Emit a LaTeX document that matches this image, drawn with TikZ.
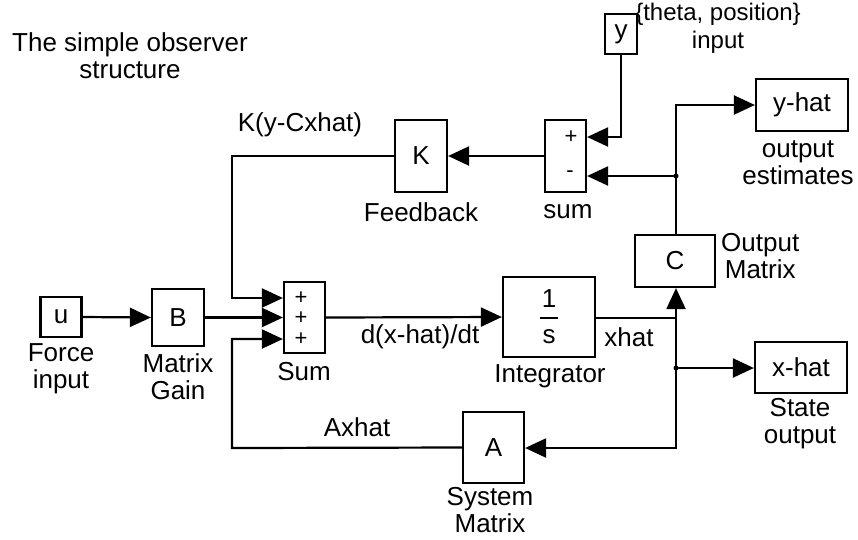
\documentclass[tikz,border=0pt]{standalone}
\usepackage{fontspec}
\setmainfont{Liberation Sans}
\usetikzlibrary{arrows.meta}
\begin{document}
\begin{tikzpicture}[x=1pt,y=-1pt,
  every node/.style={font=\fontsize{26}{27}\selectfont, inner sep=0pt, align=center},
  blk/.style={draw, line width=2.2pt, rectangle},
  wire/.style={line width=2.2pt},
  arr/.style={line width=2.2pt, -{Triangle[length=21pt,width=19pt]}},
  pm/.style={font=\fontsize{22}{22}\selectfont},
  dot/.style={circle, fill=black, minimum size=5pt, inner sep=0pt}]
\useasboundingbox (0,0) rectangle (858,539);
% blocks
\node[blk, minimum width=41pt, minimum height=40pt] (u) at (61,317) {u};
\node[blk, minimum width=52pt, minimum height=57pt] (B) at (178,317.5) {B};
\node[blk, minimum width=41pt, minimum height=71pt] (S) at (304.5,317.5) {};
\node[pm] (sp1) at (301,298) {+};
\node[pm] (sp2) at (301,318) {+};
\node[pm] (sp3) at (301,339) {+};
\node[blk, minimum width=52pt, minimum height=72pt] (K) at (421,156) {K};
\node[blk, minimum width=41pt, minimum height=72pt] (s2) at (565.5,156) {};
\node[pm] (s2p) at (571,137) {+};
\node[pm] (s2m) at (570,174) {-};
\node[blk, minimum width=32pt, minimum height=40pt] (y) at (621,34) {y};
\node[blk, minimum width=92pt, minimum height=52pt] (yh) at (802,105) {y-hat};
\node[blk, minimum width=80pt, minimum height=52pt] (C) at (675,261) {C};
\node[blk, minimum width=92pt, minimum height=80pt] (I) at (549,317) {};
\node (one) at (549,299) {1};
\node (ess) at (549,337) {s};
\coordinate (barl) at (540,318);
\coordinate (barr) at (558,318);
\draw[line width=2.2pt] (barl) -- (barr);
\node[blk, minimum width=92pt, minimum height=51pt] (xh) at (801,367.5) {x-hat};
\node[blk, minimum width=61pt, minimum height=71pt] (A) at (493.5,447.5) {A};
% junctions
\node[dot] (j1) at (676,176) {};
\node[dot] (j2) at (676,368) {};
\coordinate (cx) at (676,318);
\coordinate (cb) at (676,448);
\coordinate (kl) at (232,156);
\coordinate (al) at (232,448);
\coordinate (yt) at (621,137);
\coordinate (yc) at (676,105);
% wires
\draw[arr] (u.east) -- (B.west);
\draw[arr] (B.east) -- (S.west);
\draw[arr] (K.west) -- (kl) |- (sp1 -| S.west);
\draw[arr] (A.west) -- (al) |- (sp3 -| S.west);
\draw[arr] (s2.west) -- (K.east);
\draw[arr] (y.south) -- (yt) -- (yt -| s2.east);
\draw[arr] (j1.center) -- (j1 -| s2.east);
\draw[arr] (C.north -| yc) -- (yc) -- (yh.west);
\draw[arr] (S.east) -- (I.west);
\draw[wire] (I.east |- cx) -- (cx);
\draw[arr] (cx) -- (C.south -| cx);
\draw[arr] (cx) -- (cb) -- (A.east |- cb);
\draw[arr] (j2.center) -- (j2 -| xh.west);
% labels
\node (title) at (130,56) {The simple observer\\structure};
\node (lk) at (300,125) {K(y-Cxhat)};
\node (lfb) at (421,212) {Feedback};
\node (lsum2) at (568,212) {sum};
\node[font=\fontsize{24}{28}\selectfont] (ltheta) at (718,28) {\{theta, position\}\\input};
\node (lye) at (798,163) {output\\estimates};
\node[anchor=west] (lom) at (721,256) {Output\\Matrix};
\node (lfi) at (61,369) {Force\\input};
\node (lmg) at (178,377) {Matrix\\Gain};
\node (lsum) at (304,372) {Sum};
\node (ldx) at (420,337) {d(x-hat)/dt};
\node (lxhat) at (629,337) {xhat};
\node (lint) at (550,376) {Integrator};
\node (lso) at (800,424) {State\\output};
\node (lax) at (357,427) {Axhat};
\node (lsm) at (490,510) {System\\Matrix};
\end{tikzpicture}
\end{document}
